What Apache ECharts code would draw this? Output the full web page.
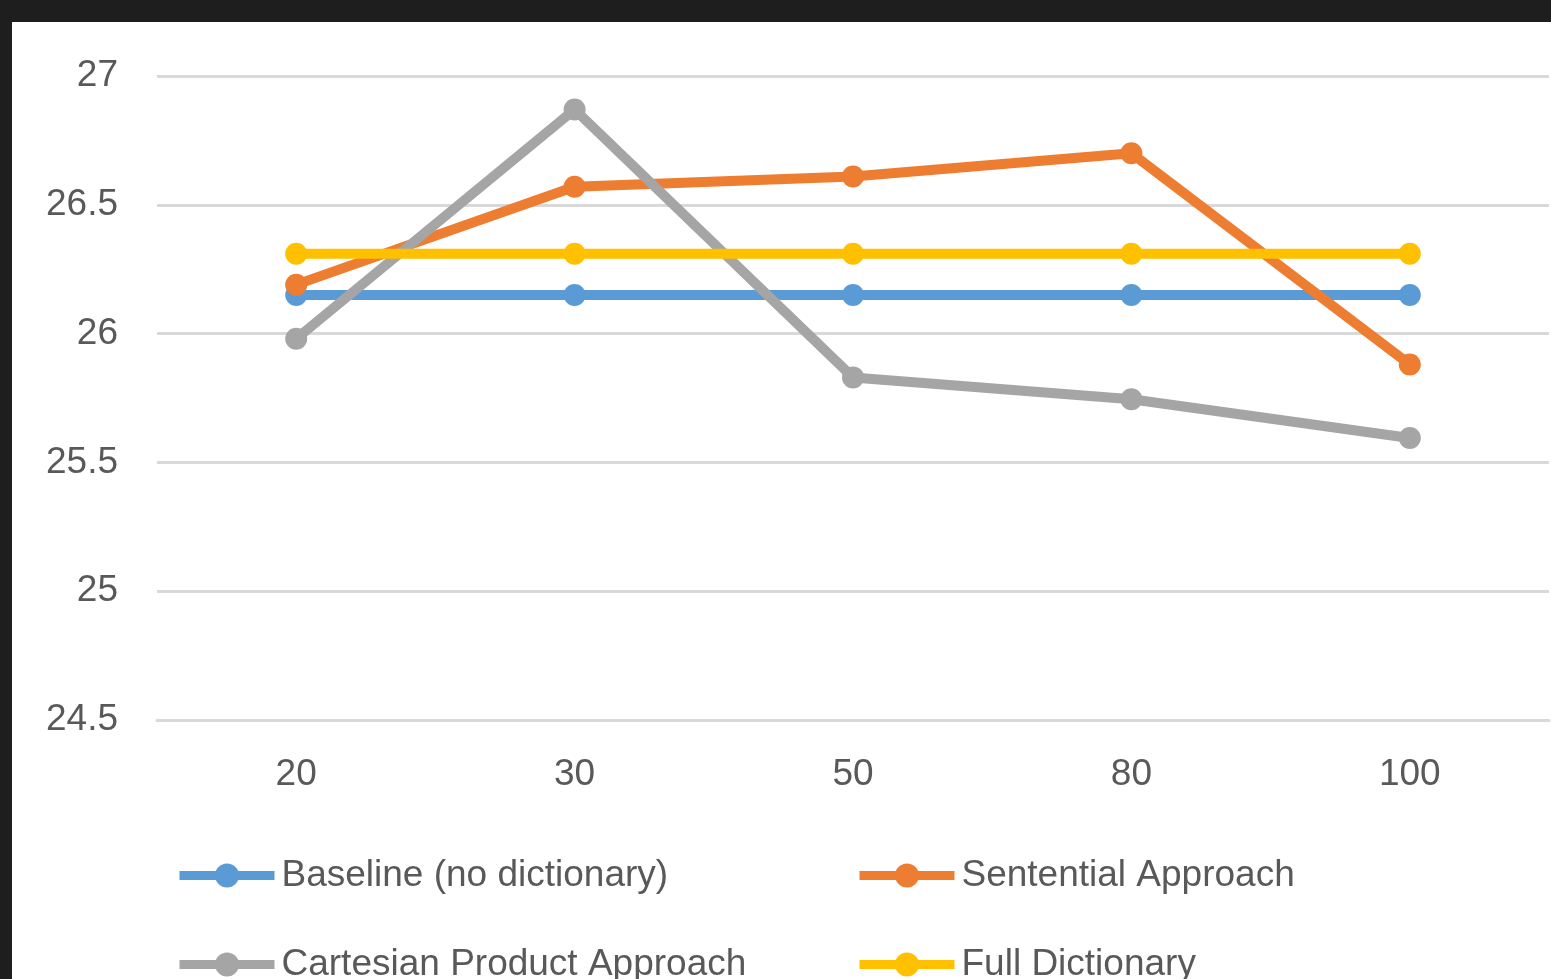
<!DOCTYPE html>
<html lang="en">
<head>
    <meta charset="UTF-8">
    <title>Line chart</title>
    <script type="text/javascript" src="https://cdn.jsdelivr.net/npm/echarts@6/dist/echarts.min.js"></script>
    <style>
        html, body { margin: 0; padding: 0; background: #1e1e1e; width: 1551px; height: 979px; overflow: hidden; }
        #main { position: absolute; left: 12px; top: 22px; width: 1539px; height: 957px; background: #fff; }
    </style>
</head>
<body>
<div id="main"></div>
<script type="text/javascript">
    var categories = ['20', '30', '50', '80', '100'];
    var baseline = [26.15, 26.15, 26.15, 26.15, 26.15];
    var sentential = [26.19, 26.57, 26.61, 26.70, 25.88];
    var cartesian = [25.98, 26.87, 25.83, 25.745, 25.595];
    var fullDict = [26.31, 26.31, 26.31, 26.31, 26.31];

    var font = 'Liberation Sans';
    var textColor = '#595959';
    var fontSize = 37;

    function lineSeries(name, color, data) {
        return {
            name: name,
            type: 'line',
            data: data,
            symbol: 'circle',
            symbolSize: 22,
            lineStyle: { width: 10, color: color },
            itemStyle: { color: color },
            emphasis: { disabled: true }
        };
    }

    // one legend per item so the two columns line up like the original
    function legendItem(name, left, top) {
        return {
            left: left,
            top: top,
            itemWidth: 95,
            itemHeight: 30,
            padding: 0,
            lineStyle: { width: 9 },
            textStyle: { color: textColor, fontFamily: font, fontSize: fontSize, padding: [0, 0, 0, 2] },
            data: [name]
        };
    }

    var option = {
        animation: false,
        legend: [
            legendItem('Baseline (no dictionary)', 163, 835),
            legendItem('Cartesian Product Approach', 163, 924),
            legendItem('Sentential Approach', 843, 835),
            legendItem('Full Dictionary', 843, 924)
        ],
        grid: {
            left: 145,
            right: 2,
            top: 54,
            bottom: 259
        },
        xAxis: {
            type: 'category',
            boundaryGap: true,
            data: categories,
            axisLine: { lineStyle: { color: '#d9d9d9', width: 3 } },
            axisTick: { show: false },
            axisLabel: { color: textColor, fontFamily: font, fontSize: fontSize, margin: 36 }
        },
        yAxis: {
            type: 'value',
            min: 24.5,
            max: 27,
            interval: 0.5,
            axisLine: { show: false },
            axisTick: { show: false },
            splitLine: { lineStyle: { color: '#d9d9d9', width: 3 } },
            axisLabel: { color: textColor, fontFamily: font, fontSize: fontSize, margin: 39 }
        },
        series: [
            lineSeries('Baseline (no dictionary)', '#5B9BD5', baseline),
            lineSeries('Sentential Approach', '#ED7D31', sentential),
            lineSeries('Cartesian Product Approach', '#A5A5A5', cartesian),
            lineSeries('Full Dictionary', '#FFC000', fullDict)
        ]
    };

    var myChart = echarts.init(document.getElementById('main'));
    myChart.setOption(option);
</script>
</body>
</html>
